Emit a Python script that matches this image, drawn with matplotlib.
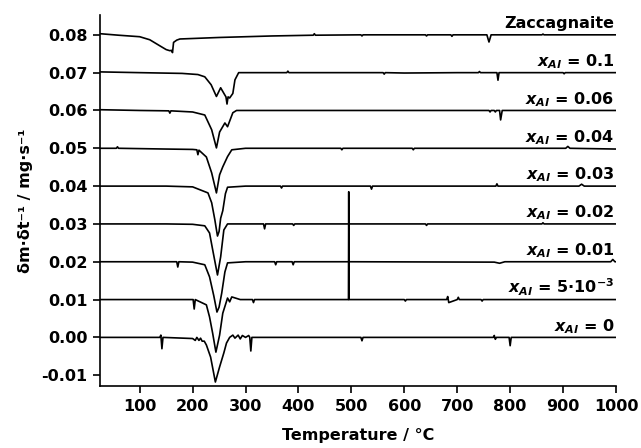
import matplotlib
matplotlib.use('Agg')
import matplotlib.pyplot as plt

plt.rcParams['font.family'] = ['DejaVu Sans']
plt.rcParams['font.weight'] = 'bold'
plt.rcParams['mathtext.fontset'] = 'custom'
plt.rcParams['mathtext.it'] = 'DejaVu Sans:italic:bold'
plt.rcParams['mathtext.rm'] = 'DejaVu Sans:bold'
plt.rcParams['mathtext.bf'] = 'DejaVu Sans:bold'
plt.rcParams['axes.unicode_minus'] = False

## curves (temperature in C, offset dm/dt in mg/s)
t_zac = [25, 60, 100, 119, 138, 150, 157, 160, 162, 164, 170, 176, 250, 350, 428, 430, 432,
         518, 520, 522, 640, 642, 644, 688, 690, 692, 756, 760, 764, 860, 862, 864, 1000]
y_zac = [0.0803, 0.0799, 0.0795, 0.0787, 0.0771, 0.0761, 0.0758, 0.0759, 0.0753, 0.0780, 0.0786,
         0.0789, 0.0793, 0.0797, 0.0799, 0.0803, 0.0799, 0.0800, 0.0797, 0.0800, 0.0800, 0.0797,
         0.0800, 0.0800, 0.0796, 0.0800, 0.0800, 0.0781, 0.0800, 0.0800, 0.0802, 0.0800, 0.0800]

t_010 = [25, 100, 180, 210, 223, 235, 245, 253, 260, 263, 265, 267, 270, 276, 280, 287, 320,
         378, 380, 382, 500, 560, 562, 564, 600, 700, 740, 742, 744, 775, 777, 779, 900, 902,
         904, 1000]
y_010 = [0.0702, 0.0700, 0.0698, 0.0695, 0.0689, 0.0668, 0.0637, 0.0660, 0.0643, 0.0636, 0.0617,
         0.0636, 0.0633, 0.0645, 0.0681, 0.0700, 0.0700, 0.0700, 0.0704, 0.0700, 0.0700, 0.0700,
         0.0696, 0.0700, 0.0699, 0.0700, 0.0700, 0.0703, 0.0700, 0.0700, 0.0680, 0.0700, 0.0700,
         0.0697, 0.0700, 0.0700]

t_006 = [25, 100, 155, 157, 159, 200, 223, 236, 245, 251, 261, 266, 276, 283, 400, 600, 760,
         762, 764, 770, 772, 774, 780, 782, 785, 1000]
y_006 = [0.0602, 0.0600, 0.0599, 0.0593, 0.0599, 0.0596, 0.0588, 0.0549, 0.0501, 0.0543, 0.0567,
         0.0557, 0.0594, 0.0600, 0.0600, 0.0600, 0.0600, 0.0596, 0.0600, 0.0600, 0.0596, 0.0600,
         0.0600, 0.0575, 0.0600, 0.0600]

t_004 = [25, 56, 58, 60, 150, 200, 208, 210, 212, 226, 236, 245, 251, 257, 266, 274, 300, 400,
         480, 482, 484, 615, 617, 619, 800, 905, 909, 913, 1000]
y_004 = [0.0500, 0.0500, 0.0504, 0.0500, 0.0498, 0.0497, 0.0496, 0.0483, 0.0495, 0.0477, 0.0435,
         0.0382, 0.0430, 0.0451, 0.0478, 0.0496, 0.0500, 0.0500, 0.0500, 0.0496, 0.0500, 0.0500,
         0.0496, 0.0500, 0.0500, 0.0500, 0.0505, 0.0500, 0.0498]

t_003 = [25, 150, 200, 229, 236, 242, 245, 247, 250, 253, 257, 262, 266, 300, 366, 368, 370,
         536, 538, 540, 700, 773, 775, 777, 930, 935, 940, 1000]
y_003 = [0.0400, 0.0400, 0.0398, 0.0382, 0.0356, 0.0311, 0.0285, 0.0268, 0.0280, 0.0315, 0.0335,
         0.0380, 0.0397, 0.0400, 0.0400, 0.0395, 0.0400, 0.0400, 0.0392, 0.0400, 0.0400, 0.0400,
         0.0406, 0.0400, 0.0400, 0.0405, 0.0400, 0.0400]

t_002 = [25, 150, 200, 223, 232, 238, 247, 253, 259, 266, 300, 334, 336, 338, 389, 391, 393,
         600, 640, 642, 644, 700, 860, 862, 864, 1000]
y_002 = [0.0300, 0.0300, 0.0299, 0.0295, 0.0276, 0.0231, 0.0165, 0.0213, 0.0284, 0.0300, 0.0300,
         0.0300, 0.0287, 0.0300, 0.0300, 0.0296, 0.0300, 0.0300, 0.0300, 0.0296, 0.0300, 0.0300,
         0.0300, 0.0303, 0.0300, 0.0300]

t_001 = [25, 150, 170, 172, 174, 200, 223, 232, 240, 246, 250, 255, 261, 266, 300, 355, 357,
         359, 388, 390, 392, 500, 770, 780, 790, 990, 994, 998, 1000]
y_001 = [0.0200, 0.0200, 0.0200, 0.0186, 0.0200, 0.0199, 0.0192, 0.0160, 0.0110, 0.0067, 0.0080,
         0.0117, 0.0173, 0.0197, 0.0200, 0.0200, 0.0192, 0.0200, 0.0200, 0.0192, 0.0200, 0.0200,
         0.0199, 0.0196, 0.0200, 0.0200, 0.0206, 0.0200, 0.0200]

t_0005 = [25, 150, 201, 203, 205, 226, 232, 238, 244, 251, 257, 266, 270, 274, 290, 313, 315,
          317, 494.5, 495, 495.5, 600, 602, 604, 680, 682, 684, 700, 702, 704, 745, 747, 749,
          1000]
y_0005 = [0.0100, 0.0100, 0.0100, 0.0075, 0.0100, 0.0086, 0.0054, 0.0010, -0.0039, 0.0006, 0.0064,
          0.0104, 0.0094, 0.0107, 0.0100, 0.0100, 0.0092, 0.0100, 0.0100, 0.0385, 0.0100, 0.0100,
          0.0096, 0.0100, 0.0100, 0.0108, 0.0092, 0.0100, 0.0106, 0.0100, 0.0100, 0.0096, 0.0100,
          0.0100]

t_000 = [25, 100, 138, 140, 142, 144, 200, 205, 208, 212, 215, 218, 222, 226, 234, 243, 251,
         259, 264, 270, 276, 280, 286, 290, 294, 300, 306, 308, 310, 312, 400, 518, 520, 522,
         700, 768, 770, 772, 774, 798, 800, 802, 1000]
y_000 = [0.0000, 0.0000, 0.0000, 0.0006, -0.0030, 0.0000, -0.0003, -0.0008, 0.0000, -0.0008,
         -0.0002, -0.0010, -0.0010, -0.0020, -0.0052, -0.0118, -0.0078, -0.0041, -0.0015, 0.0000,
         0.0006, -0.0002, 0.0006, -0.0004, 0.0005, 0.0000, 0.0005, 0.0000, -0.0036, 0.0000,
         0.0000, 0.0000, -0.0009, 0.0000, 0.0000, 0.0000, 0.0005, -0.0005, 0.0000, 0.0000,
         -0.0022, 0.0000, 0.0000]

labels = ['Zaccagnaite', r'$x_{Al}$ = 0.1', r'$x_{Al}$ = 0.06', r'$x_{Al}$ = 0.04',
          r'$x_{Al}$ = 0.03', r'$x_{Al}$ = 0.02', r'$x_{Al}$ = 0.01',
          r'$x_{Al}$ = 5·10$^{-3}$', r'$x_{Al}$ = 0']
baselines = [0.08, 0.07, 0.06, 0.05, 0.04, 0.03, 0.02, 0.01, 0.00]
curves = [(t_zac, y_zac), (t_010, y_010), (t_006, y_006), (t_004, y_004), (t_003, y_003),
          (t_002, y_002), (t_001, y_001), (t_0005, y_0005), (t_000, y_000)]

xticks = [100, 200, 300, 400, 500, 600, 700, 800, 900, 1000]
yticks = [-0.01, 0.00, 0.01, 0.02, 0.03, 0.04, 0.05, 0.06, 0.07, 0.08]

fig = plt.figure(figsize=(6.41, 4.48), dpi=100)
ax = fig.add_axes([0.156, 0.138, 0.805, 0.829])

for (t, y), lab, b in zip(curves, labels, baselines):
    ax.plot(t, y, color='black', lw=1.2)
    ax.text(997, b + 0.0017, lab, ha='right', va='baseline', fontsize=11.5, fontweight='bold')

ax.set_xlim(25, 1000)
ax.set_ylim(-0.0129, 0.0853)
ax.set_xticks(xticks)
ax.set_xticklabels([str(v) for v in xticks])
ax.set_yticks(yticks)
ax.set_yticklabels([f'{v:.2f}' for v in yticks])
ax.tick_params(direction='out', length=5, width=1.2, labelsize=11.5, pad=4)

for s in ['top', 'right']:
    ax.spines[s].set_visible(False)
for s in ['left', 'bottom']:
    ax.spines[s].set_linewidth(1.2)

ax.set_xlabel('Temperature / °C', fontsize=11.5, fontweight='bold', labelpad=10)
ax.set_ylabel('δm·δt⁻¹ / mg·s⁻¹', fontsize=11.5, fontweight='bold', labelpad=6)

fig.savefig('out.png', dpi=100)
